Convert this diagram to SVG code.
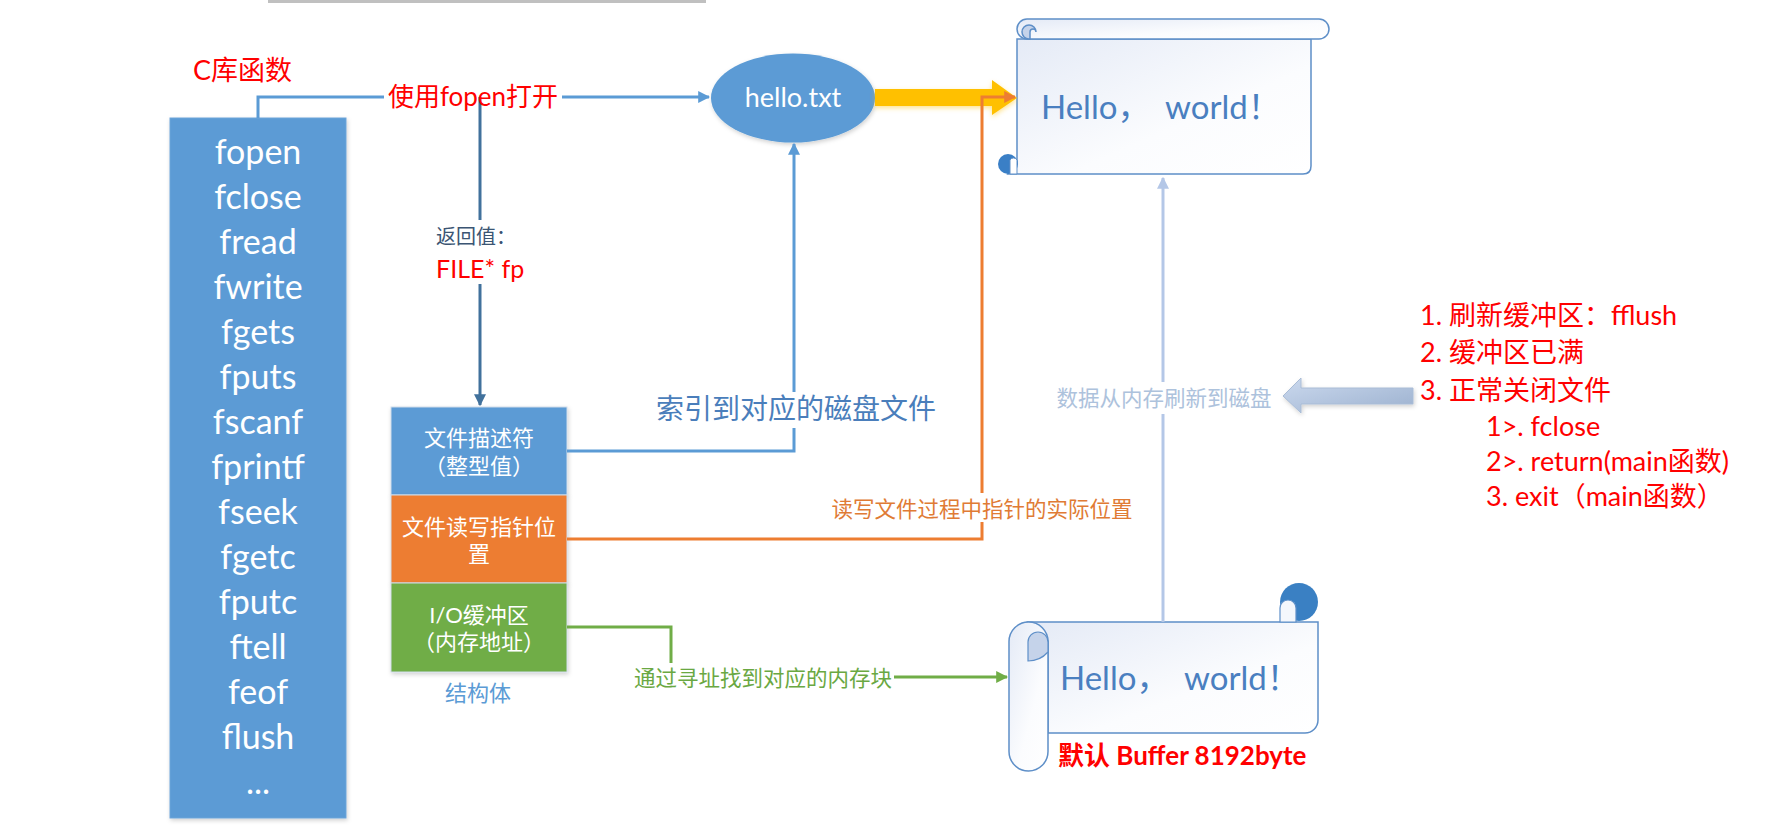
<svg xmlns="http://www.w3.org/2000/svg" width="1781" height="839" viewBox="0 0 1781 839">
<defs>
<style>
.t{font-family:Lato,"Noto Sans CJK SC",sans-serif}
.fn{font-size:34px;fill:#fff;text-anchor:middle}
.sb{font-size:22px;fill:#fff;text-anchor:middle}
.red{fill:#ff0000}
.ln{fill:none;stroke-width:3}
.scroll{stroke:#5e8fc8;stroke-width:1.5}
.hw{font-size:33px;fill:#4a7fc0}
.lst{font-size:27px;fill:#ff0000}
</style>
<marker id="aBlue" viewBox="0 0 10 10" refX="9" refY="5" markerWidth="4" markerHeight="4" orient="auto"><path d="M0,0 L10,5 L0,10 Z" fill="#5b9bd5"/></marker>
<marker id="aDark" viewBox="0 0 10 10" refX="9" refY="5" markerWidth="4" markerHeight="4" orient="auto"><path d="M0,0 L10,5 L0,10 Z" fill="#41719c"/></marker>
<marker id="aOrange" viewBox="0 0 10 10" refX="9" refY="5" markerWidth="4" markerHeight="4" orient="auto"><path d="M0,0 L10,5 L0,10 Z" fill="#ed7d31"/></marker>
<marker id="aGreen" viewBox="0 0 10 10" refX="9" refY="5" markerWidth="4" markerHeight="4" orient="auto"><path d="M0,0 L10,5 L0,10 Z" fill="#70ad47"/></marker>
<marker id="aLight" viewBox="0 0 10 10" refX="9" refY="5" markerWidth="4" markerHeight="4" orient="auto"><path d="M0,0 L10,5 L0,10 Z" fill="#b4c7e7"/></marker>
<linearGradient id="scrollG" x1="0" y1="0" x2="1" y2="1"><stop offset="0" stop-color="#e4eaf6"/><stop offset="0.6" stop-color="#fbfcfe"/><stop offset="1" stop-color="#ffffff"/></linearGradient>
<linearGradient id="blockG" x1="0" y1="0" x2="1" y2="1"><stop offset="0" stop-color="#cbd9ee"/><stop offset="1" stop-color="#9cb1cf"/></linearGradient>
<filter id="sh" x="-10%" y="-10%" width="130%" height="130%"><feDropShadow dx="1" dy="2" stdDeviation="2" flood-color="#000" flood-opacity="0.18"/></filter>
<filter id="glow" x="-10%" y="-30%" width="120%" height="160%"><feDropShadow dx="0" dy="2" stdDeviation="2.5" flood-color="#ffc000" flood-opacity="0.45"/></filter>
</defs>
<rect width="1781" height="839" fill="#fff"/>
<rect x="268" y="0" width="438" height="3" fill="#c0c0c0"/>

<g id="clib">
<text class="t red" x="193" y="80" font-size="27">C库函数</text>
<rect x="170" y="118" width="176" height="700" fill="#5b9bd5" stroke="#6fa5d9" stroke-width="1" filter="url(#sh)"/>
<g class="t fn">
<text x="258" y="164">fopen</text>
<text x="258" y="209">fclose</text>
<text x="258" y="254">fread</text>
<text x="258" y="299">fwrite</text>
<text x="258" y="344">fgets</text>
<text x="258" y="389">fputs</text>
<text x="258" y="434">fscanf</text>
<text x="258" y="479">fprintf</text>
<text x="258" y="524">fseek</text>
<text x="258" y="569">fgetc</text>
<text x="258" y="614">fputc</text>
<text x="258" y="659">ftell</text>
<text x="258" y="704">feof</text>
<text x="258" y="749">flush</text>
<text x="258" y="794">...</text>
</g>
</g>

<g id="hello-file">
<ellipse cx="793" cy="98" rx="82" ry="44.5" fill="#5b9bd5" filter="url(#sh)"/>
<text class="t" x="793" y="107" font-size="27" fill="#fff" text-anchor="middle">hello.txt</text>
</g>

<g id="struct">
<rect x="391" y="407" width="176" height="88" fill="#5b9bd5" stroke="#d0dcea" stroke-width="1" filter="url(#sh)"/>
<rect x="391" y="495" width="176" height="88" fill="#ed7d31" stroke="#d0dcea" stroke-width="1" filter="url(#sh)"/>
<rect x="391" y="583" width="176" height="89" fill="#70ad47" stroke="#d0dcea" stroke-width="1" filter="url(#sh)"/>
<text class="t sb" x="479" y="446">文件描述符</text>
<text class="t sb" x="479" y="474">（整型值）</text>
<text class="t sb" x="479" y="535">文件读写指针位</text>
<text class="t sb" x="479" y="562">置</text>
<text class="t sb" x="479" y="623">I/O缓冲区</text>
<text class="t sb" x="479" y="650">（内存地址）</text>
<text class="t" x="478" y="701" font-size="22" fill="#5b9bd5" text-anchor="middle">结构体</text>
</g>

<g id="disk-scroll">
<path class="scroll" d="M1008,174 H1303 Q1311,174 1311,166 V39 H1017 V164 Z" fill="url(#scrollG)"/>
<path class="scroll" d="M1027,19 H1319 A10,10 0 0 1 1319,39 H1027 A10,10 0 0 1 1027,19 Z" fill="url(#scrollG)"/>
<path class="scroll" d="M1029,39 A7,7 0 1 1 1036,32 A3,3 0 0 0 1030,32 V39 Z" fill="#c5d3ea"/>
<circle cx="1008" cy="164" r="10" fill="#3a7fc6"/>
<path d="M1010,174 V160 A4,4 0 0 1 1017,160 V174 Z" fill="#fff" stroke="#5e8fc8" stroke-width="1"/>
<text class="t hw" x="1041" y="119">Hello， <tspan x="1165">world！</tspan></text>
</g>

<g id="buffer-scroll">
<path class="scroll" d="M1028,622 H1318 V720 A13,13 0 0 1 1305,733 H1048 V641 Z" fill="url(#scrollG)"/>
<circle cx="1299" cy="602" r="19" fill="#3a80c3"/>
<path d="M1280,622 V608 A8,8 0 0 1 1296,608 V622 Z" fill="#f4f7fc" stroke="#5e8fc8" stroke-width="1.2"/>
<rect x="1009" y="622" width="39" height="149" rx="19.5" ry="19.5" class="scroll" fill="url(#scrollG)"/>
<path d="M1028,661 V642 A10,10 0 0 1 1048,642 V652 Q1040,661 1028,661 Z" fill="#c5d3ea" stroke="#5e8fc8" stroke-width="1.2"/>
<text class="t hw" x="1060" y="690">Hello， <tspan x="1184">world！</tspan></text>
<text class="t" x="1058" y="765" font-size="26" font-weight="bold" fill="#ff0000">默认 Buffer 8192byte</text>
</g>

<g id="flush-list">
<path d="M1283,396 L1301,378 V388 H1413 V404 H1301 V413 Z" fill="url(#blockG)" stroke="#a9bcd6" stroke-width="1" filter="url(#sh)"/>
<text class="t lst" x="1420" y="325">1. 刷新缓冲区：fflush</text>
<text class="t lst" x="1420" y="362">2. 缓冲区已满</text>
<text class="t lst" x="1420" y="400">3. 正常关闭文件</text>
<text class="t lst" x="1486" y="436">1&gt;. fclose</text>
<text class="t lst" x="1486" y="471">2&gt;. return(main函数)</text>
<text class="t lst" x="1486" y="506">3. exit（main函数）</text>
</g>

<g id="connectors">
<path d="M875,89 H992 V80 L1017,98 L992,115 V106 H875 Z" fill="#ffc000" filter="url(#glow)"/>
<path class="ln" stroke="#5b9bd5" d="M258,118 V97 H384"/>
<path class="ln" stroke="#5b9bd5" d="M562,97 H709" marker-end="url(#aBlue)"/>
<path class="ln" stroke="#41719c" d="M480,97 V220"/>
<path class="ln" stroke="#41719c" d="M480,284 V405" marker-end="url(#aDark)"/>
<path class="ln" stroke="#5b9bd5" d="M567,451 H794 V428"/>
<path class="ln" stroke="#5b9bd5" d="M794,392 V144" marker-end="url(#aBlue)"/>
<path class="ln" stroke="#ed7d31" d="M567,539 H982 V522"/>
<path class="ln" stroke="#ed7d31" d="M982,493 V97 H1015" marker-end="url(#aOrange)"/>
<path class="ln" stroke="#70ad47" d="M567,627 H671 V663"/>
<path class="ln" stroke="#70ad47" d="M894,677 H1007" marker-end="url(#aGreen)"/>
<path class="ln" stroke="#b4c7e7" d="M1163,622 V414"/>
<path class="ln" stroke="#b4c7e7" d="M1163,382 V178" marker-end="url(#aLight)"/>
</g>

<g id="labels">
<text class="t red" x="473" y="106" font-size="26" text-anchor="middle">使用fopen打开</text>
<text class="t" x="436" y="244" font-size="20" fill="#3b5573">返回值：</text>
<text class="t red" x="436" y="278" font-size="25">FILE* fp</text>
<text class="t" x="796" y="419" font-size="28" fill="#4a7ebb" text-anchor="middle">索引到对应的磁盘文件</text>
<text class="t" x="982" y="517" font-size="21.5" fill="#e07b35" text-anchor="middle">读写文件过程中指针的实际位置</text>
<text class="t" x="763" y="686" font-size="21.5" fill="#6aa842" text-anchor="middle">通过寻址找到对应的内存块</text>
<text class="t" x="1164" y="406" font-size="21.5" fill="#adc2dc" text-anchor="middle">数据从内存刷新到磁盘</text>
</g>
</svg>
